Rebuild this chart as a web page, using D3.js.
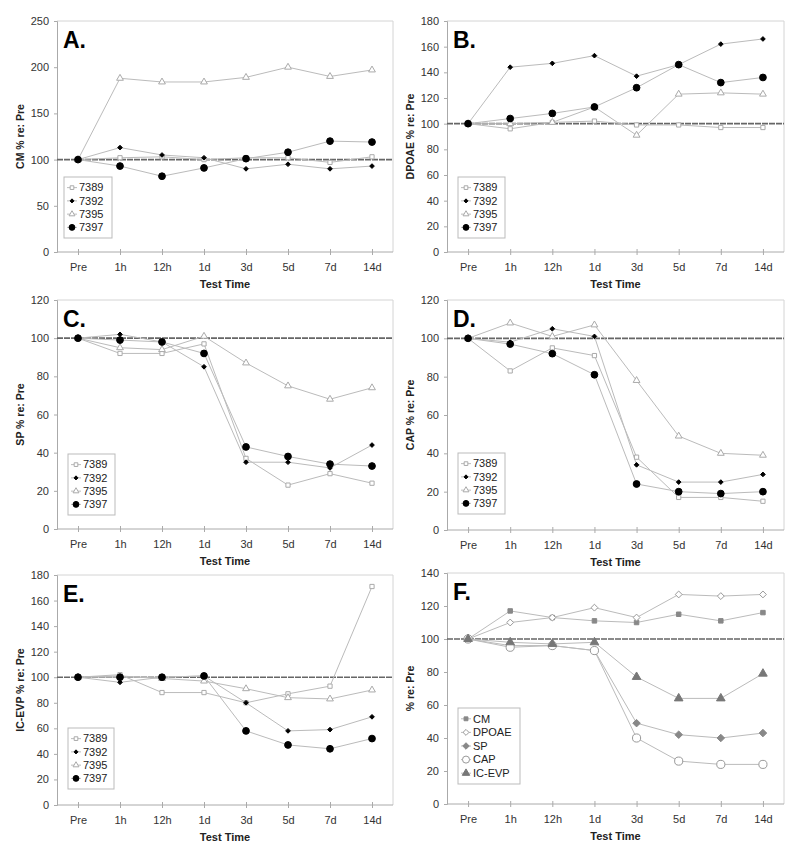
<!DOCTYPE html>
<html>
<head>
<meta charset="utf-8">
<script src="https://cdn.jsdelivr.net/npm/d3@7"></script>
<style>
  body { margin: 0; background: #fff; }
  svg { display: block; font-family: "Liberation Sans", Arial, sans-serif; }
</style>
</head>
<body>
<svg id="chart" width="800" height="856"></svg>
<script>
// ---- Data ----
const categories = ["Pre", "1h", "12h", "1d", "3d", "5d", "7d", "14d"];
const animalIds = ["7389", "7392", "7395", "7397"];
const summaryNames = ["CM", "DPOAE", "SP", "CAP", "IC-EVP"];

// Panel A: CM
const cm7389 = [100, 102, 103, 100, 102, 102, 97, 103];
const cm7392 = [100, 113, 105, 102, 90, 95, 90, 93];
const cm7395 = [100, 188, 184, 184, 189, 200, 190, 197];
const cm7397 = [100, 93, 82, 91, 101, 108, 120, 119];
// Panel B: DPOAE
const dp7389 = [100, 96, 101, 102, 99, 99, 97, 97];
const dp7392 = [100, 144, 147, 153, 137, 146, 162, 166];
const dp7395 = [100, 100, 101, 113, 91, 123, 124, 123];
const dp7397 = [100, 104, 108, 113, 128, 146, 132, 136];
// Panel C: SP
const sp7389 = [100, 92, 92, 97, 37, 23, 29, 24];
const sp7392 = [100, 102, 98, 85, 35, 35, 32, 44];
const sp7395 = [100, 95, 94, 101, 87, 75, 68, 74];
const sp7397 = [100, 99, 98, 92, 43, 38, 34, 33];
// Panel D: CAP
const cap7389 = [100, 83, 95, 91, 38, 17, 17, 15];
const cap7392 = [100, 98, 105, 101, 34, 25, 25, 29];
const cap7395 = [100, 108, 101, 107, 78, 49, 40, 39];
const cap7397 = [100, 97, 92, 81, 24, 20, 19, 20];
// Panel E: IC-EVP
const ic7389 = [100, 102, 88, 88, 80, 87, 93, 171];
const ic7392 = [100, 96, 100, 101, 80, 58, 59, 69];
const ic7395 = [100, 101, 99, 97, 91, 84, 83, 90];
const ic7397 = [100, 100, 100, 101, 58, 47, 44, 52];
// Panel F: means
const meanCM = [100, 117, 113, 111, 110, 115, 111, 116];
const meanDPOAE = [100, 110, 113, 119, 113, 127, 126, 127];
const meanSP = [100, 96, 96, 93, 49, 42, 40, 43];
const meanCAP = [100, 95, 96, 93, 40, 26, 24, 24];
const meanICEVP = [100, 98, 97, 98, 77, 64, 64, 79];

const yTicksA = [0, 50, 100, 150, 200, 250];
const yTicks180 = [0, 20, 40, 60, 80, 100, 120, 140, 160, 180];
const yTicks120 = [0, 20, 40, 60, 80, 100, 120];
const yTicks140 = [0, 20, 40, 60, 80, 100, 120, 140];

// ---- Styles ----
const animalStyles = [
  { shape: d3.symbolSquare, size: 18, fill: "#fff", stroke: "#aaa" },
  { shape: d3.symbolDiamond2, size: 14, fill: "#000", stroke: "#000" },
  { shape: d3.symbolTriangle, size: 20, fill: "#fff", stroke: "#aaa" },
  { shape: d3.symbolCircle, size: 36, fill: "#000", stroke: "#000" }
];
const summaryStyles = [
  { shape: d3.symbolSquare, size: 20, fill: "#888", stroke: "#888" },
  { shape: d3.symbolDiamond2, size: 30, fill: "#fff", stroke: "#999" },
  { shape: d3.symbolDiamond2, size: 36, fill: "#888", stroke: "#888" },
  { shape: d3.symbolCircle, size: 52, fill: "#fff", stroke: "#999" },
  { shape: d3.symbolTriangle, size: 32, fill: "#777", stroke: "#777" }
];

const panels = [
  { label: "A.", ytitle: "CM % re: Pre", ymax: 250, ticks: yTicksA, l: 57, r: 393, t: 21, b: 252,
    series: [cm7389, cm7392, cm7395, cm7397], names: animalIds, styles: animalStyles,
    leg: { x: 64, y: 177, w: 48, h: 61 } },
  { label: "B.", ytitle: "DPOAE % re: Pre", ymax: 180, ticks: yTicks180, l: 447, r: 784, t: 21, b: 252,
    series: [dp7389, dp7392, dp7395, dp7397], names: animalIds, styles: animalStyles,
    leg: { x: 458, y: 177, w: 47, h: 61 } },
  { label: "C.", ytitle: "SP % re: Pre", ymax: 120, ticks: yTicks120, l: 57, r: 393, t: 300, b: 529,
    series: [sp7389, sp7392, sp7395, sp7397], names: animalIds, styles: animalStyles,
    leg: { x: 68, y: 454, w: 47, h: 61 } },
  { label: "D.", ytitle: "CAP % re: Pre", ymax: 120, ticks: yTicks120, l: 447, r: 784, t: 300, b: 530,
    series: [cap7389, cap7392, cap7395, cap7397], names: animalIds, styles: animalStyles,
    leg: { x: 458, y: 453, w: 47, h: 61 } },
  { label: "E.", ytitle: "IC-EVP % re: Pre", ymax: 180, ticks: yTicks180, l: 57, r: 393, t: 575, b: 805,
    series: [ic7389, ic7392, ic7395, ic7397], names: animalIds, styles: animalStyles,
    leg: { x: 68, y: 728, w: 46, h: 61 } },
  { label: "F.", ytitle: "% re: Pre", ymax: 140, ticks: yTicks140, l: 447, r: 784, t: 573, b: 804,
    series: [meanCM, meanDPOAE, meanSP, meanCAP, meanICEVP], names: summaryNames, styles: summaryStyles,
    leg: { x: 458, y: 708, w: 62, h: 76 } }
];

const svg = d3.select("#chart");

panels.forEach(p => {
  const g = svg.append("g");
  const x = d3.scalePoint().domain(categories).range([p.l, p.r]).padding(0.5);
  const y = d3.scaleLinear().domain([0, p.ymax]).range([p.b, p.t]);

  // frame (top and right)
  g.append("path")
    .attr("d", `M${p.l},${p.t}H${p.r}V${p.b}`)
    .attr("fill", "none").attr("stroke", "#d4d4d4").attr("stroke-width", 1);

  // y axis
  const yAxis = g.append("g").attr("transform", `translate(${p.l},0)`)
    .call(d3.axisLeft(y).tickValues(p.ticks).tickSize(3).tickPadding(5));
  yAxis.select(".domain").attr("stroke", "#aaa");
  yAxis.selectAll(".tick line").attr("stroke", "#aaa");
  yAxis.selectAll("text").attr("font-size", 11).attr("fill", "#333")
    .attr("font-family", "Liberation Sans, Arial, sans-serif");

  // x axis
  const xAxis = g.append("g").attr("transform", `translate(0,${p.b})`)
    .call(d3.axisBottom(x).tickSize(3).tickPadding(8).tickSizeOuter(0));
  xAxis.select(".domain").attr("stroke", "#aaa")
    .attr("d", `M${p.l},0H${p.r}`);
  xAxis.selectAll(".tick line").attr("stroke", "#aaa").attr("y1", -3).attr("y2", 3);
  xAxis.selectAll("text").attr("font-size", 11).attr("fill", "#333")
    .attr("font-family", "Liberation Sans, Arial, sans-serif");

  // x title
  g.append("text").attr("x", (p.l + p.r) / 2).attr("y", p.b + 36)
    .attr("text-anchor", "middle").attr("font-size", 11).attr("font-weight", "bold")
    .attr("fill", "#222").text("Test Time");

  // y title
  const ytx = p.l < 200 ? 20 : 410;
  g.append("text")
    .attr("transform", `translate(${ytx},${(p.t + p.b) / 2}) rotate(-90)`)
    .attr("text-anchor", "middle").attr("dy", "0.35em")
    .attr("font-size", 10.5).attr("font-weight", "bold").attr("fill", "#222")
    .text(p.ytitle);

  // 100% reference line
  g.append("line").attr("x1", p.l).attr("x2", p.r)
    .attr("y1", y(100)).attr("y2", y(100))
    .attr("stroke", "#666").attr("stroke-width", 1.6)
    .attr("stroke-dasharray", "6,1");

  // panel label
  g.append("text").attr("x", p.l + 6).attr("y", p.t + 27)
    .attr("font-size", 23).attr("font-weight", "bold").attr("fill", "#000")
    .text(p.label);

  // series lines
  const line = d3.line().x((d, i) => x(categories[i])).y(d => y(d));
  p.series.forEach(s => {
    g.append("path").datum(s).attr("d", line)
      .attr("fill", "none").attr("stroke", "#bbb").attr("stroke-width", 1);
  });
  // markers
  p.series.forEach((s, si) => {
    const st = p.styles[si];
    g.selectAll(null).data(s).enter().append("path")
      .attr("transform", (d, i) => `translate(${x(categories[i])},${y(d)})`)
      .attr("d", d3.symbol().type(st.shape).size(st.size))
      .attr("fill", st.fill).attr("stroke", st.stroke).attr("stroke-width", 1);
  });

  // legend
  const L = p.leg;
  const lg = g.append("g");
  lg.append("rect").attr("x", L.x).attr("y", L.y).attr("width", L.w).attr("height", L.h)
    .attr("fill", "#fff").attr("stroke", "#bbb").attr("stroke-width", 1);
  const n = p.names.length;
  const step = (L.h - 8) / n;
  p.names.forEach((name, i) => {
    const cy = L.y + 4 + step * (i + 0.5);
    const st = p.styles[i];
    lg.append("line").attr("x1", L.x + 3).attr("x2", L.x + 13).attr("y1", cy).attr("y2", cy)
      .attr("stroke", "#bbb");
    lg.append("path").attr("transform", `translate(${L.x + 8},${cy})`)
      .attr("d", d3.symbol().type(st.shape).size(st.size * 0.75))
      .attr("fill", st.fill).attr("stroke", st.stroke);
    lg.append("text").attr("x", L.x + 15).attr("y", cy).attr("dy", "0.35em")
      .attr("font-size", 11).attr("fill", "#222").text(name);
  });
});
</script>
</body>
</html>
